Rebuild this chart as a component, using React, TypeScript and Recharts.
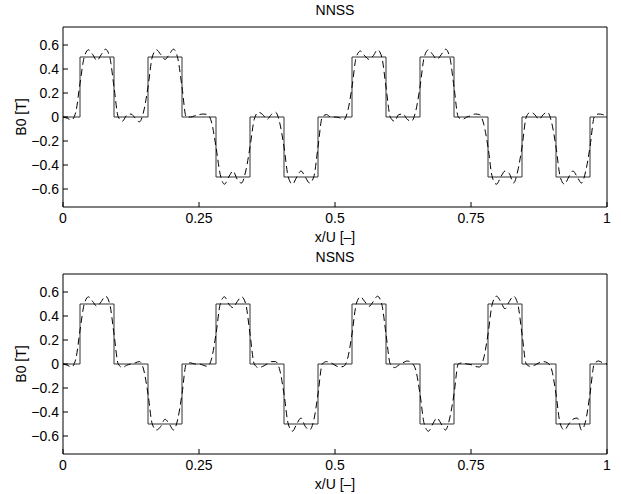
import React from 'react';
import { LineChart, Line, XAxis, YAxis } from 'recharts';

const xTicks = [0, 0.25, 0.5, 0.75, 1];
const yTicks = [-0.6, -0.4, -0.2, 0, 0.2, 0.4, 0.6];

// x positions where the ideal square wave changes level
const stepEdges = [0, 0.03125, 0.09375, 0.15625, 0.21875, 0.28125, 0.34375, 0.40625, 0.46875, 0.53125, 0.59375, 0.65625, 0.71875, 0.78125, 0.84375, 0.90625, 0.96875, 1];
const nnssLevels = [0, 0.5, 0, 0.5, 0, -0.5, 0, -0.5, 0, 0.5, 0, 0.5, 0, -0.5, 0, -0.5, 0, 0];
const nsnsLevels = [0, 0.5, 0, -0.5, 0, 0.5, 0, -0.5, 0, 0.5, 0, -0.5, 0, 0.5, 0, -0.5, 0, 0];

// dashed (harmonic approximation) read off at x = i/128, i = 0..128
const nnssDashed = [
  0, -0.01, -0.025, 0.04, 0.28, 0.5, 0.56, 0.52, 0.47, 0.52, 0.565, 0.5, 0.25, 0.0, -0.035, 0.015,
  0.025, -0.01, -0.04, 0.05, 0.25, 0.5, 0.56, 0.52, 0.48, 0.52, 0.565, 0.49, 0.25, 0.0, 0.0, 0.01,
  0.02, 0.025, 0.02, -0.05, -0.25, -0.48, -0.56, -0.5, -0.45, -0.52, -0.55, -0.45, -0.25, -0.02, 0.04, 0.02,
  -0.02, 0.02, 0.04, -0.05, -0.25, -0.5, -0.56, -0.5, -0.45, -0.5, -0.55, -0.5, -0.25, 0.0, 0.02, 0.0,
  0.0, -0.005, -0.025, 0.05, 0.25, 0.5, 0.55, 0.51, 0.48, 0.51, 0.56, 0.5, 0.25, 0.0, -0.035, 0.02,
  0.025, -0.02, -0.035, 0.05, 0.25, 0.5, 0.56, 0.52, 0.48, 0.52, 0.565, 0.5, 0.25, 0.0, -0.02, 0.0,
  0.01, 0.025, 0.02, -0.06, -0.25, -0.5, -0.56, -0.5, -0.45, -0.47, -0.55, -0.45, -0.25, 0.0, 0.04, 0.02,
  -0.02, 0.02, 0.04, -0.05, -0.25, -0.5, -0.56, -0.5, -0.45, -0.5, -0.55, -0.45, -0.25, 0.0, 0.025, 0.02,
  0.0,
];
const nsnsDashed = [
  0, -0.01, -0.025, 0.04, 0.28, 0.5, 0.56, 0.52, 0.48, 0.52, 0.565, 0.5, 0.25, 0.0, -0.03, -0.01,
  0.0, 0.01, 0.02, -0.05, -0.25, -0.5, -0.55, -0.52, -0.46, -0.5, -0.55, -0.46, -0.25, 0.0, 0.01, 0.0,
  0.0, -0.01, -0.02, 0.05, 0.25, 0.5, 0.56, 0.5, 0.47, 0.52, 0.56, 0.5, 0.25, 0.0, -0.03, -0.02,
  0.0, 0.02, 0.02, -0.05, -0.25, -0.5, -0.56, -0.5, -0.45, -0.52, -0.55, -0.47, -0.25, 0.0, 0.02, 0.01,
  -0.01, -0.025, -0.02, 0.05, 0.25, 0.5, 0.56, 0.52, 0.48, 0.52, 0.565, 0.5, 0.25, 0.0, -0.03, -0.01,
  0.01, 0.025, 0.01, -0.05, -0.25, -0.5, -0.56, -0.5, -0.45, -0.5, -0.55, -0.45, -0.25, 0.0, 0.01, 0.0,
  -0.005, -0.02, -0.025, 0.05, 0.25, 0.5, 0.565, 0.52, 0.46, 0.52, 0.565, 0.5, 0.25, 0.0, -0.02, -0.01,
  0.01, 0.02, 0.01, -0.05, -0.25, -0.5, -0.55, -0.5, -0.46, -0.45, -0.55, -0.47, -0.25, 0.0, 0.025, 0.01,
  0.0,
];

const FONT = '"Liberation Sans", Arial, Helvetica, sans-serif';
const FS = 14;
const fmt = (v: number) => String(v).replace('-', '\u2212');
const tickStyle = { fontSize: FS, fill: '#000', fontFamily: FONT };
const axisLine = { stroke: '#000', strokeWidth: 1 };

function Panel({ title, levels, dashed, top }: { title: string; levels: number[]; dashed: number[]; top: number }) {
  const dashData = dashed.map((v, i) => ({ x: i / 128, v }));
  const stepData = stepEdges.map((x, i) => ({ x, v: levels[i] }));
  return (
    <div style={{ position: 'absolute', left: 0, top, width: 621, height: 247 }}>
      <LineChart width={621} height={247} data={dashData} margin={{ top: 0, right: 0, bottom: 0, left: 0 }}>
        <XAxis
          dataKey="x"
          type="number"
          domain={[0, 1]}
          ticks={xTicks}
          interval={0}
          height={40}
          tickSize={-5}
          tickMargin={11}
          tick={tickStyle}
          axisLine={axisLine}
          tickLine={axisLine}
          allowDataOverflow
        />
        <XAxis
          xAxisId="top"
          orientation="top"
          type="number"
          domain={[0, 1]}
          ticks={xTicks}
          height={27}
          tickSize={-5}
          tick={false}
          axisLine={axisLine}
          tickLine={axisLine}
          allowDataOverflow
        />
        <YAxis
          type="number"
          domain={[-0.75, 0.75]}
          ticks={yTicks}
          interval={0}
          width={63}
          tickSize={-5}
          tickMargin={9}
          tick={tickStyle}
          tickFormatter={fmt}
          axisLine={axisLine}
          tickLine={axisLine}
          allowDataOverflow
        />
        <YAxis
          yAxisId="right"
          orientation="right"
          type="number"
          domain={[-0.75, 0.75]}
          ticks={yTicks}
          width={14}
          tickSize={-5}
          tick={false}
          axisLine={axisLine}
          tickLine={axisLine}
          allowDataOverflow
        />
        <Line
          data={stepData}
          dataKey="v"
          type="stepAfter"
          stroke="#333"
          strokeWidth={1}
          dot={false}
          isAnimationActive={false}
        />
        <Line
          dataKey="v"
          type="monotone"
          stroke="#000"
          strokeWidth={1}
          strokeDasharray="7 4"
          dot={false}
          isAnimationActive={false}
        />
      </LineChart>
      <div style={{ position: 'absolute', left: 63, width: 544, top: 2, textAlign: 'center', fontFamily: FONT, fontSize: FS, lineHeight: '16px' }}>{title}</div>
      <div style={{ position: 'absolute', left: 63, width: 544, top: 229, textAlign: 'center', fontFamily: FONT, fontSize: FS, lineHeight: '16px' }}>x/U [–]</div>
      <div style={{ position: 'absolute', left: 21, top: 117, transform: 'translate(-50%, -50%) rotate(-90deg)', whiteSpace: 'nowrap', fontFamily: FONT, fontSize: FS, lineHeight: '16px' }}>B0 [T]</div>
    </div>
  );
}

export default function App() {
  return (
    <div style={{ position: 'absolute', left: 0, top: 0, width: 621, height: 494, background: '#fff' }}>
      <Panel title="NNSS" levels={nnssLevels} dashed={nnssDashed} top={0} />
      <Panel title="NSNS" levels={nsnsLevels} dashed={nsnsDashed} top={247} />
    </div>
  );
}
